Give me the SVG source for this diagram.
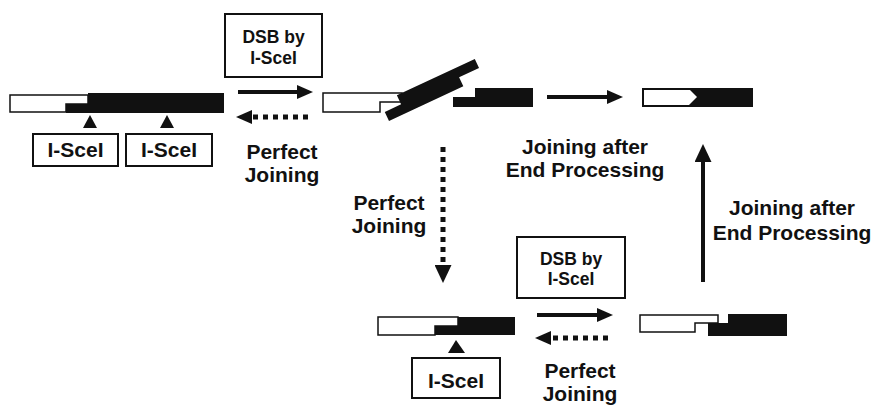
<svg xmlns="http://www.w3.org/2000/svg" width="872" height="405" viewBox="0 0 872 405">
<style>
  .lbl{font-family:"Liberation Sans",Arial,sans-serif;font-weight:bold;font-size:21px;fill:#111;text-anchor:middle}
  .dsb{font-family:"Liberation Sans",Arial,sans-serif;font-weight:bold;font-size:17.5px;fill:#111;text-anchor:middle}
  .box{fill:#fff;stroke:#111;stroke-width:2}
  .wht{fill:#fff;stroke:#111;stroke-width:1.5}
  .blk{fill:#111}
  .solid{stroke:#111;stroke-width:4;fill:none}
  .dot{stroke:#111;stroke-width:5;fill:none;stroke-dasharray:5 5}
</style>
<defs>
  <marker id="ah" viewBox="0 0 16 14" markerWidth="16" markerHeight="14" refX="0" refY="7" orient="auto" markerUnits="userSpaceOnUse">
    <path d="M0,0 L16,7 L0,14 Z" fill="#111"/>
  </marker>
  <marker id="ahd" viewBox="0 0 18 17" markerWidth="18" markerHeight="17" refX="0" refY="8.5" orient="auto" markerUnits="userSpaceOnUse">
    <path d="M0,0 L18,8.5 L0,17 Z" fill="#111"/>
  </marker>
</defs>

<rect width="872" height="405" fill="#fff"/>

<g id="dna-intact">
  <path class="wht" d="M10,95 H88 V104 H66 V112 H10 Z"/>
  <path class="blk" d="M88,93 H224 V113 H66 V104 H88 Z"/>
  <polygon class="blk" points="90,115 83,128 97,128"/>
  <polygon class="blk" points="167,115 160,128 174,128"/>
</g>
<g id="site1">
  <rect class="box" x="33" y="134" width="85" height="32"/>
  <text class="lbl" x="75.5" y="157">I-SceI</text>
</g>
<g id="site2">
  <rect class="box" x="126" y="134" width="86" height="32"/>
  <text class="lbl" x="169" y="157">I-SceI</text>
</g>

<g id="dsb-top">
  <rect class="box" x="225" y="14" width="97" height="63"/>
  <text class="dsb" x="273.5" y="43">DSB by</text>
  <text class="dsb" x="273.5" y="64">I-SceI</text>
</g>

<g id="dna-cut">
  <path class="wht" d="M323,93 H402 V102 H380 V112 H323 Z"/>
  <path class="blk" transform="translate(389,121) rotate(-25)" d="M0,0 H82 V-10 H104 V-20 H18 V-10 H0 Z"/>
  <path class="blk" d="M475,88 H533 V107 H453 V97 H475 Z"/>
</g>

<g id="dna-processed">
  <rect class="blk" x="642" y="88" width="111" height="19"/>
  <path fill="#fff" d="M644,90 H690 L697,97 L691,103 L689,105 H644 Z"/>
</g>

<g id="dna-bottom-left">
  <path class="wht" d="M378,317 H458 V326 H435 V335 H378 Z"/>
  <path class="blk" d="M458,317 H515 V335 H435 V326 H458 Z"/>
  <polygon class="blk" points="456,340 448,353 465,353"/>
</g>
<g id="site3">
  <rect class="box" x="412" y="358" width="88" height="40"/>
  <text class="lbl" x="456" y="388">I-SceI</text>
</g>

<g id="dsb-bottom">
  <rect class="box" x="517" y="237" width="108" height="61"/>
  <text class="dsb" x="571" y="265">DSB by</text>
  <text class="dsb" x="571" y="285">I-SceI</text>
</g>

<g id="dna-bottom-right">
  <path class="wht" d="M640,315 H718 V323 H695 V332 H640 Z"/>
  <path class="blk" d="M728,314 H787 V336 H708 V323 H728 Z"/>
</g>

<g id="labels">
  <text class="lbl" x="282" y="159">Perfect</text>
  <text class="lbl" x="282" y="182">Joining</text>
  <text class="lbl" x="585" y="154">Joining after</text>
  <text class="lbl" x="585" y="177">End Processing</text>
  <text class="lbl" x="389" y="210">Perfect</text>
  <text class="lbl" x="389" y="233">Joining</text>
  <text class="lbl" x="792" y="215">Joining after</text>
  <text class="lbl" x="792" y="240">End Processing</text>
  <text class="lbl" x="580" y="378">Perfect</text>
  <text class="lbl" x="580" y="401">Joining</text>
</g>

<g id="connectors">
  <line class="solid" x1="238" y1="92" x2="297" y2="92" marker-end="url(#ah)"/>
  <line class="dot" x1="308" y1="117" x2="252" y2="117" marker-end="url(#ah)"/>
  <line class="solid" x1="547" y1="97" x2="607" y2="97" marker-end="url(#ah)"/>
  <line class="dot" x1="443" y1="147" x2="443" y2="265" marker-end="url(#ahd)"/>
  <line class="solid" x1="537" y1="315" x2="597" y2="315" marker-end="url(#ah)"/>
  <line class="dot" x1="608" y1="338" x2="551" y2="338" marker-end="url(#ah)"/>
  <line class="solid" x1="703" y1="282" x2="703" y2="162" marker-end="url(#ahd)"/>
</g>
</svg>
